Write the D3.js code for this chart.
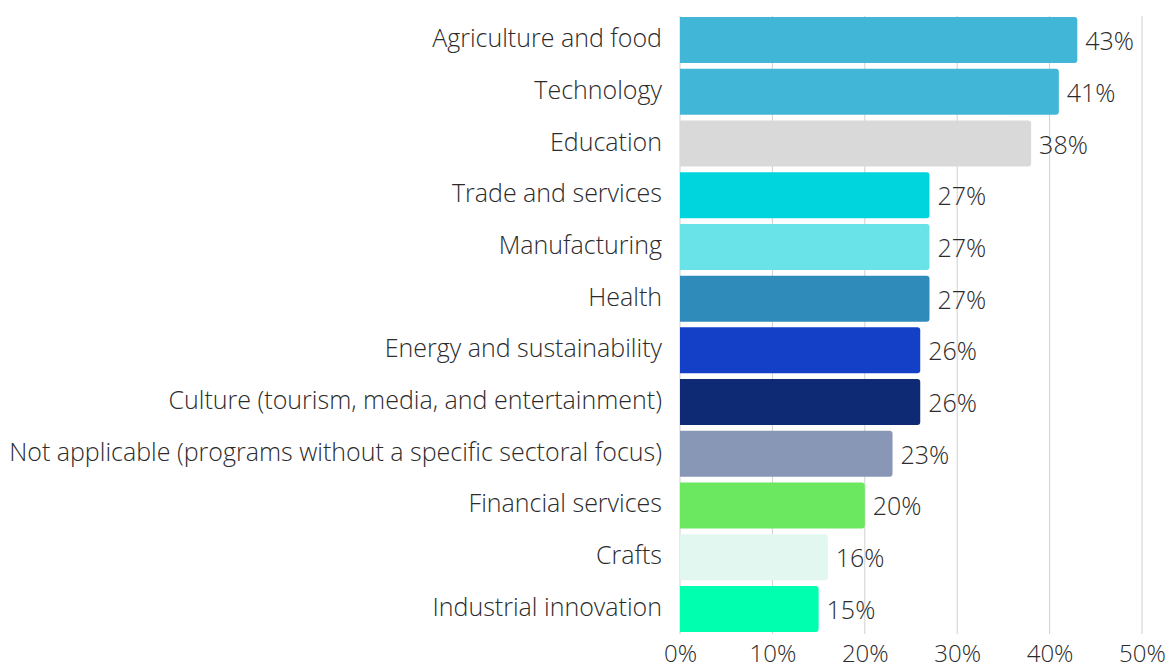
<!DOCTYPE html>
<html>
<head>
<meta charset="utf-8">
<script src="https://cdn.jsdelivr.net/npm/d3@7"></script>
<style>
  html, body { margin: 0; padding: 0; background: #fff; }
  svg { display: block; }
  text { font-family: "Source Sans Pro", "Open Sans", sans-serif; font-weight: 300; fill: #2b2b2b; }
</style>
</head>
<body>
<svg id="chart" width="1168" height="668"></svg>
<script>
// Share of programs by sectoral focus
const sectors = [
  "Agriculture and food",
  "Technology",
  "Education",
  "Trade and services",
  "Manufacturing",
  "Health",
  "Energy and sustainability",
  "Culture (tourism, media, and entertainment)",
  "Not applicable (programs without a specific sectoral focus)",
  "Financial services",
  "Crafts",
  "Industrial innovation"
];
const shares = [43, 41, 38, 27, 27, 27, 26, 26, 23, 20, 16, 15];
const barColors = [
  "#42b6d6", "#42b6d6", "#d9d9d9", "#00d4dd", "#6ae3e8", "#2e8bba",
  "#1440c8", "#0e2a74", "#8797b5", "#6be860", "#e2f7f0", "#00ffae"
];
const xTicks = [0, 10, 20, 30, 40, 50];
const tickLabels = ["0%", "10%", "20%", "30%", "40%", "50%"];

const svg = d3.select("#chart");
const margin = { left: 680, right: 26, top: 14, bottom: 33 };
const width = 1168, height = 668;
const fontSize = 25;

const x = d3.scaleLinear().domain([0, 50]).range([margin.left, width - margin.right]);
const y = d3.scaleBand().domain(sectors).range([margin.top, height - margin.bottom]).paddingInner(0.11).paddingOuter(0.06);

// vertical gridlines
svg.append("g").selectAll("line").data(xTicks).join("line")
  .attr("x1", d => x(d)).attr("x2", d => x(d))
  .attr("y1", margin.top + 2).attr("y2", height - margin.bottom - 1)
  .attr("stroke", "#d0d0d0").attr("stroke-width", 1);

// bars: square on the left, rounded on the right
const r = 3;
function barPath(d, i) {
  const x0 = x(0), x1 = x(d), y0 = y(sectors[i]), h = y.bandwidth();
  return `M${x0},${y0}H${x1 - r}Q${x1},${y0} ${x1},${y0 + r}V${y0 + h - r}Q${x1},${y0 + h} ${x1 - r},${y0 + h}H${x0}Z`;
}
svg.append("g").selectAll("path").data(shares).join("path")
  .attr("d", barPath)
  .attr("fill", (d, i) => barColors[i]);

// value labels
svg.append("g").selectAll("text").data(shares).join("text")
  .attr("x", d => x(d) + 8)
  .attr("y", (d, i) => y(sectors[i]) + y.bandwidth() / 2 + 10)
  .attr("font-size", fontSize)
  .text(d => d + "%");

// category labels
const yAxis = d3.axisLeft(y).tickSize(0).tickPadding(18);
const gy = svg.append("g").attr("transform", `translate(${margin.left},0)`).call(yAxis);
gy.select(".domain").remove();
gy.selectAll("text").attr("font-size", fontSize).attr("font-family", null).attr("dy", "0.28em");

// x axis tick labels
const xAxis = d3.axisBottom(x).tickValues(xTicks).tickFormat((d, i) => tickLabels[i]).tickSize(0).tickPadding(0);
const gx = svg.append("g").attr("transform", `translate(0,${height - 6})`).call(xAxis);
gx.select(".domain").remove();
gx.selectAll("text").attr("font-size", 24).attr("font-family", null).attr("dy", 0);
</script>
</body>
</html>
